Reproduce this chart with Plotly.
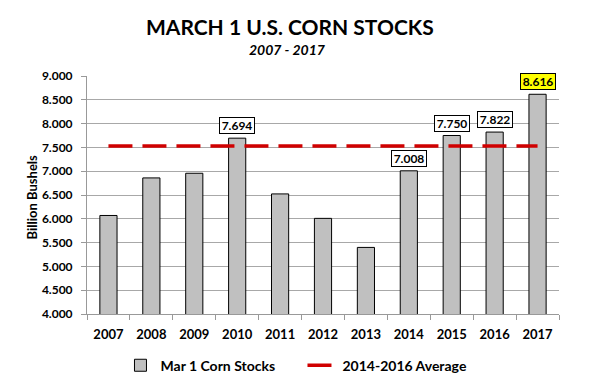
import plotly.graph_objects as go

years = ["2007", "2008", "2009", "2010", "2011", "2012", "2013", "2014", "2015", "2016", "2017"]
stocks = [6.070, 6.859, 6.957, 7.694, 6.523, 6.009, 5.399, 7.008, 7.750, 7.822, 8.616]
avg_2014_2016 = [7.527] * len(years)
labeled_years = ["2010", "2014", "2015", "2016", "2017"]
highlight_year = "2017"
y_ticks = [4.0, 4.5, 5.0, 5.5, 6.0, 6.5, 7.0, 7.5, 8.0, 8.5, 9.0]

FONT = "Lato"

fig = go.Figure()
fig.add_trace(go.Bar(
    x=years, y=stocks, name="Mar 1 Corn Stocks",
    marker=dict(color="#c0c0c0", line=dict(color="#000000", width=1)),
))
fig.add_trace(go.Scatter(
    x=years, y=avg_2014_2016, name="2014-2016 Average", mode="lines",
    line=dict(color="#d00000", width=3.5, dash="24px,10px"),
))

for i, (yr, v) in enumerate(zip(years, stocks)):
    if yr in labeled_years:
        fig.add_annotation(
            x=i, y=v, text="%.3f" % v, showarrow=False,
            yanchor="bottom", yshift=4, width=32, height=13,
            font=dict(family=FONT, size=12, color="#000000", weight="bold"),
            bgcolor="#ffff00" if yr == highlight_year else "#ffffff",
            bordercolor="#000000", borderwidth=1, borderpad=1,
        )

fig.add_annotation(
    text="MARCH 1 U.S. CORN STOCKS", xref="paper", yref="paper",
    x=0.430, y=1.21, xanchor="center", yanchor="middle", showarrow=False,
    font=dict(family=FONT, size=21, color="#000000", weight="bold"),
)
fig.add_annotation(
    text="<i>2007 - 2017</i>", xref="paper", yref="paper",
    x=0.425, y=1.113, xanchor="center", yanchor="middle", showarrow=False,
    font=dict(family=FONT, size=14, color="#000000", weight="bold"),
)
fig.add_annotation(
    text="Billion Bushels", xref="paper", yref="paper",
    x=-0.1165, y=0.49, xanchor="center", yanchor="middle", showarrow=False,
    textangle=-90,
    font=dict(family=FONT, size=13, color="#000000", weight="bold"),
)

fig.update_layout(
    width=592, height=385,
    margin=dict(l=79, r=41, t=68, b=79),
    paper_bgcolor="white", plot_bgcolor="white",
    showlegend=True,
    legend=dict(
        orientation="h", xref="container", yref="container",
        x=0.19, xanchor="left", y=0.071, yanchor="middle",
        entrywidth=137,
        font=dict(family=FONT, size=14, color="#000000", weight="bold"),
    ),
    bargap=0.6,
)
fig.update_xaxes(
    type="category", categoryorder="array", categoryarray=years,
    range=[-0.5, len(years) - 0.5], autorange=False, automargin=False,
    showline=True, linecolor="#999999", linewidth=1,
    ticks="outside", tickson="boundaries", ticklen=5, tickcolor="#999999",
    ticklabelstandoff=8,
    tickfont=dict(family=FONT, size=13, color="#000000", weight="bold"),
    showgrid=False,
)
fig.update_yaxes(
    range=[4, 9], tickvals=y_ticks, tickformat=".3f", automargin=False,
    showline=True, linecolor="#999999", linewidth=1,
    ticks="outside", ticklen=5, tickcolor="#999999",
    ticklabelstandoff=6,
    showgrid=True, gridcolor="#a8a8a8", gridwidth=1,
    tickfont=dict(family=FONT, size=12, color="#000000", weight="bold"),
    zeroline=False,
)

fig.write_html("out.html")
